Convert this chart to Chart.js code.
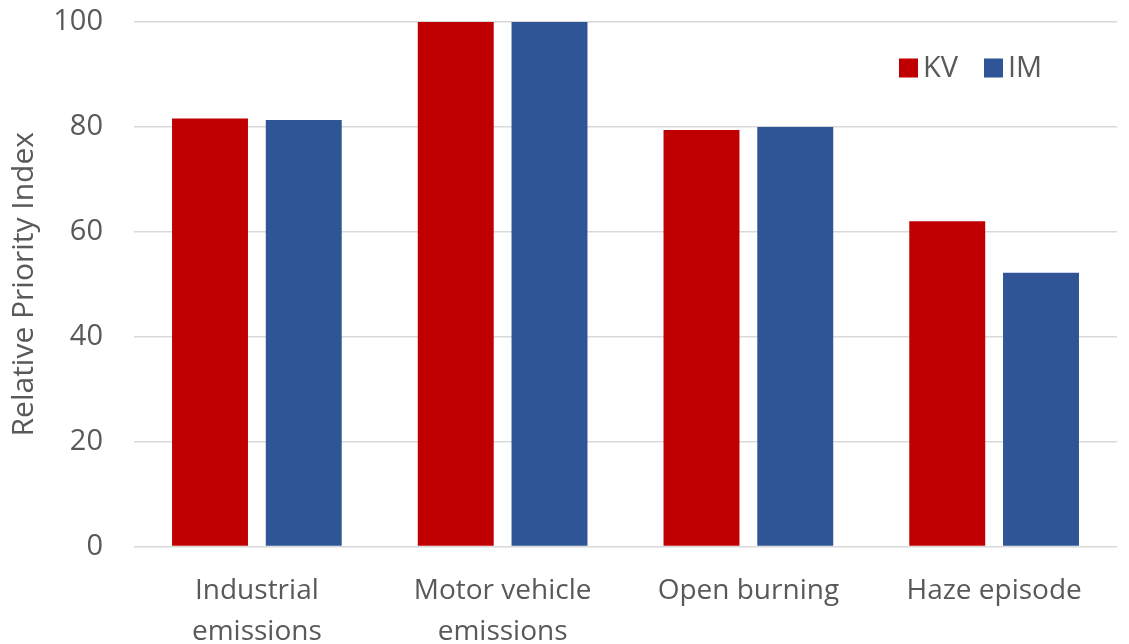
<!DOCTYPE html>
<html>
<head>
<meta charset="utf-8">
<script src="https://cdn.jsdelivr.net/npm/chart.js@4/dist/chart.umd.min.js"></script>
<style>
  html, body { margin: 0; padding: 0; background: #ffffff; }
  #wrap { width: 1129px; height: 644px; position: relative; }
</style>
</head>
<body>
<div id="wrap"><canvas id="c" width="1129" height="644"></canvas></div>
<script>
// Emission source categories (two-line labels)
const categories = [
  ['Industrial', 'emissions'],
  ['Motor vehicle', 'emissions'],
  'Open burning',
  'Haze episode'
];
const seriesNames = ['KV', 'IM'];
const kvValues = [81.6, 100, 79.4, 62.0];
const imValues = [81.3, 100, 80.0, 52.2];
const yTicks = [0, 20, 40, 60, 80, 100];

const TEXT = '#595959';
const FONT = 'Open Sans';
const KV_COLOR = '#C00000';
const IM_COLOR = '#2F5597';

// Legend drawn inside the plot area, top-right corner
const insideLegend = {
  id: 'insideLegend',
  afterDatasetsDraw(chart) {
    const ctx = chart.ctx;
    const area = chart.chartArea;
    const items = chart.data.datasets.map(d => ({ label: d.label, color: d.backgroundColor }));
    const box = 19;
    let x = area.right - 218;
    const yMid = area.top + 46;
    ctx.save();
    ctx.font = '29px "' + FONT + '"';
    ctx.textBaseline = 'middle';
    ctx.textAlign = 'left';
    items.forEach(it => {
      ctx.fillStyle = it.color;
      ctx.fillRect(x, yMid - box / 2, box, box);
      ctx.fillStyle = TEXT;
      ctx.fillText(it.label, x + box + 5, yMid + 1);
      x += 85;
    });
    ctx.restore();
  }
};

new Chart(document.getElementById('c'), {
  type: 'bar',
  data: {
    labels: categories,
    datasets: [
      { label: seriesNames[0], data: kvValues, backgroundColor: KV_COLOR, borderWidth: 0 },
      { label: seriesNames[1], data: imValues, backgroundColor: IM_COLOR, borderWidth: 0 }
    ]
  },
  options: {
    responsive: false,
    animation: false,
    devicePixelRatio: 1,
    categoryPercentage: 0.763,
    barPercentage: 0.81,
    layout: { padding: { top: 22, right: 12, left: 0, bottom: 0 } },
    plugins: {
      legend: { display: false },
      tooltip: { enabled: false }
    },
    scales: {
      x: {
        grid: { display: false, drawTicks: false },
        border: { display: false },
        ticks: {
          color: TEXT,
          font: { family: FONT, size: 28, lineHeight: 1.43 },
          padding: 25,
          maxRotation: 0,
          autoSkip: false
        },
        afterFit(scale) { scale.height = 97.5; }
      },
      y: {
        min: 0,
        max: 100,
        afterBuildTicks(scale) { scale.ticks = yTicks.map(v => ({ value: v })); },
        grid: { color: '#D9D9D9', lineWidth: 1.5, drawTicks: false },
        border: { display: false },
        ticks: {
          color: TEXT,
          font: { family: FONT, size: 29 },
          padding: 31
        },
        title: {
          display: true,
          text: 'Relative Priority Index',
          color: TEXT,
          font: { family: FONT, size: 30 },
          padding: { top: 6, bottom: 0 }
        },
        afterFit(scale) {
          scale.width = 134;
          scale.paddingTop = 0;
          scale.paddingBottom = 0;
        }
      }
    }
  },
  plugins: [insideLegend]
});
</script>
</body>
</html>
